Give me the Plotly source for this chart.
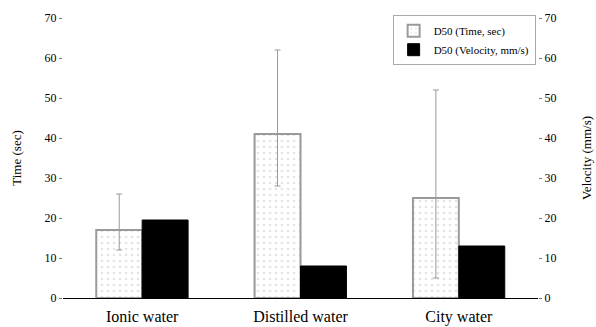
import plotly.graph_objects as go

categories = ["Ionic water", "Distilled water", "City water"]
time_sec = [17, 41, 25]
time_err_plus = [9, 21, 27]
time_err_minus = [5, 13, 20]
velocity = [19.5, 8, 13]
tick_vals = [0, 10, 20, 30, 40, 50, 60, 70]

font = "Liberation Serif"

fig = go.Figure()
fig.add_trace(go.Bar(
    x=categories, y=time_sec, name="D50 (Time, sec)",
    marker=dict(color="white", line=dict(color="#9a9a9a", width=2),
                pattern=dict(shape=".", fgcolor="#c8c8c8", size=6, solidity=0.15)),
    error_y=dict(type="data", symmetric=False, array=time_err_plus,
                 arrayminus=time_err_minus, color="#999999", thickness=1, width=3),
    offsetgroup="a", yaxis="y",
))
fig.add_trace(go.Bar(
    x=categories, y=velocity, name="D50 (Velocity, mm/s)",
    marker=dict(color="black", line=dict(color="black", width=1)),
    offsetgroup="b", yaxis="y2",
))

fig.update_layout(
    width=596, height=327,
    margin=dict(l=63, r=58, t=18, b=29, autoexpand=False),
    plot_bgcolor="white", paper_bgcolor="white",
    barmode="group", bargap=0.42, bargroupgap=0,
    font=dict(family=font, size=12, color="black"),
    showlegend=True,
    legend=dict(x=0.995, y=1.01, xanchor="right", yanchor="top",
                bordercolor="#aaaaaa", borderwidth=1, bgcolor="white",
                font=dict(size=11), itemwidth=30, tracegroupgap=0),
    xaxis=dict(showline=True, linecolor="black", linewidth=1, ticks="",
               tickfont=dict(size=16, family=font), automargin=False,
               ticklabelstandoff=4),
    yaxis=dict(range=[0, 70], tickvals=tick_vals, showgrid=False, zeroline=False,
               showline=False, ticks="outside", ticklen=3, tickcolor="#777777",
               title=dict(text="Time (sec)", font=dict(size=13), standoff=20),
               tickfont=dict(size=12), automargin=False),
    yaxis2=dict(range=[0, 70], tickvals=tick_vals, overlaying="y", side="right",
                showgrid=False, zeroline=False, showline=False,
                ticks="outside", ticklen=3, tickcolor="#777777",
                title=dict(text="Velocity (mm/s)", font=dict(size=13), standoff=26),
                tickfont=dict(size=12), automargin=False),
)

fig.write_html("out.html", config={"displayModeBar": False},
               post_script="document.body.style.margin='0';")
